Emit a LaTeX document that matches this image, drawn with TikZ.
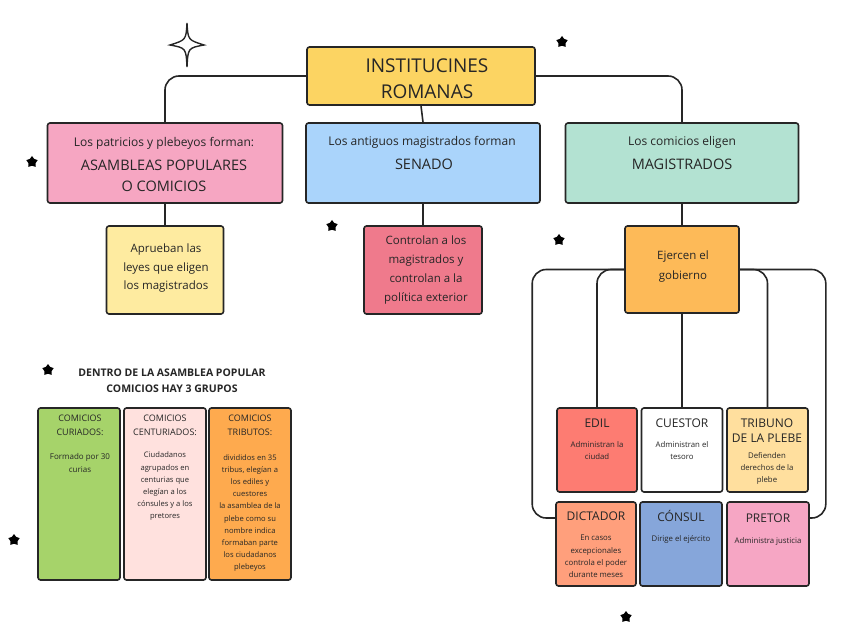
\documentclass[tikz,border=0pt]{standalone}
\usepackage{fontspec}
\setmainfont{Open Sans}
\usetikzlibrary{shapes.geometric}
\definecolor{cInst}{HTML}{FCD462}
\definecolor{cAsam}{HTML}{F6A6C2}
\definecolor{cSen}{HTML}{AAD4FB}
\definecolor{cMag}{HTML}{B3E2D2}
\definecolor{cApr}{HTML}{FEEBA0}
\definecolor{cCtrl}{HTML}{EF7A8C}
\definecolor{cEjer}{HTML}{FDBA58}
\definecolor{cCur}{HTML}{A6D36A}
\definecolor{cCen}{HTML}{FFE1DE}
\definecolor{cTri}{HTML}{FEAA4E}
\definecolor{cEdil}{HTML}{FD7C72}
\definecolor{cTrib}{HTML}{FFDF9E}
\definecolor{cDict}{HTML}{FF9F7C}
\definecolor{cCons}{HTML}{86A6DA}
\definecolor{cPret}{HTML}{F6A6C4}
\begin{document}
\begin{tikzpicture}[x=1pt,y=-1pt,
    box/.style={draw=black!85,line width=1.6pt,rounded corners=2.5pt,inner sep=0pt},
    conn/.style={draw=black!85,line width=1.6pt,rounded corners=14pt},
    txt/.style={align=center,inner sep=0pt,text=black!85},
    blob/.style={star,star points=5,star point ratio=1.6,fill=black,inner sep=0pt,minimum size=12pt}]
\useasboundingbox (0,0) rectangle (848,636);
%top
        \node[box,fill=cInst,minimum width=228,minimum height=58] (inst) at (421,76) {};
        \node[box,fill=cAsam,minimum width=235,minimum height=80] (asam) at (165,163) {};
        \node[box,fill=cSen, minimum width=234,minimum height=80] (sen)  at (423,163) {};
        \node[box,fill=cMag, minimum width=233,minimum height=80] (mag)  at (682,163) {};
        \node[box,fill=cApr, minimum width=117,minimum height=88] (apr)  at (165,270) {};
        \node[box,fill=cCtrl,minimum width=118,minimum height=88] (ctrl) at (423,270) {};
        \node[box,fill=cEjer,minimum width=114,minimum height=87] (ejer) at (682,269.5) {};
        \draw [conn] (inst.west) -| (asam.north);
        \draw [conn] (inst.east) -| (mag.north);
        \draw [conn] (inst.south) -- (sen.north);
        \draw [conn] (asam.south) -- (apr.north);
        \draw [conn] (sen.south) -- (ctrl.north);
        \draw [conn] (mag.south) -- (ejer.north);

        \node[txt,font=\fontsize{19}{26}\selectfont] (inst-t) at (427,79) {INSTITUCINES\\ROMANAS};
        \node[txt,font=\fontsize{12}{14}\selectfont] (asam-a) at (164,143) {Los patricios y plebeyos forman:};
        \node[txt,font=\fontsize{14.5}{21}\selectfont] (asam-b) at (164,175.5) {ASAMBLEAS POPULARES\\O COMICIOS};
        \node[txt,font=\fontsize{12}{14}\selectfont] (sen-a) at (422,142) {Los antiguos magistrados forman};
        \node[txt,font=\fontsize{14.5}{21}\selectfont] (sen-b) at (424,164) {SENADO};
        \node[txt,font=\fontsize{12}{14}\selectfont] (mag-a) at (682,142) {Los comicios eligen};
        \node[txt,font=\fontsize{14.5}{21}\selectfont] (mag-b) at (682,164) {MAGISTRADOS};
        \node[txt,font=\fontsize{11.5}{18.5}\selectfont] (apr-t) at (166,268.5) {Aprueban las\\leyes que eligen\\los magistrados};
        \node[txt,font=\fontsize{11.5}{18.7}\selectfont] (ctrl-t) at (426,270) {Controlan a los\\magistrados y\\controlan a la\\política exterior};
        \node[txt,font=\fontsize{11.5}{20}\selectfont] (ejer-t) at (683,267) {Ejercen el\\gobierno};

%comicios
        \node[txt,font=\fontsize{10.5}{15.5}\selectfont\bfseries] (grp) at (172,380.5) {DENTRO DE LA ASAMBLEA POPULAR\\COMICIOS HAY 3 GRUPOS};
        \node[box,fill=cCur,minimum width=82,minimum height=172] (cur) at (79,494) {};
        \node[box,fill=cCen,minimum width=82,minimum height=172] (cen) at (165,494) {};
        \node[box,fill=cTri,minimum width=82,minimum height=172] (tri) at (250,494) {};
        \node[txt,font=\fontsize{9}{14}\selectfont] (cur-a) at (80,425) {COMICIOS\\CURIADOS:};
        \node[txt,font=\fontsize{8}{13}\selectfont] (cur-b) at (80,462.5) {Formado por 30\\curias};
        \node[txt,font=\fontsize{9}{14}\selectfont] (cen-a) at (165,425) {COMICIOS\\CENTURIADOS:};
        \node[txt,font=\fontsize{7.6}{12.2}\selectfont] (cen-b) at (165,486.5) {Ciudadanos\\agrupados en\\centurias que\\elegían a los\\cónsules y a los\\pretores};
        \node[txt,font=\fontsize{9}{14}\selectfont] (tri-a) at (250,425) {COMICIOS\\TRIBUTOS:};
        \node[txt,font=\fontsize{7.6}{12.2}\selectfont] (tri-b) at (250,513) {divididos en 35\\tribus, elegían a\\los ediles y\\cuestores\\la asamblea de la\\plebe como su\\nombre indica\\formaban parte\\los ciudadanos\\plebeyos};

%magistrados
        \node[box,fill=cEdil, minimum width=80,minimum height=84] (edil) at (597,450) {};
        \node[box,fill=white, minimum width=81,minimum height=84] (cues) at (682,450) {};
        \node[box,fill=cTrib, minimum width=81,minimum height=84] (trib) at (767.5,450) {};
        \node[box,fill=cDict, minimum width=80,minimum height=84] (dict) at (596,544) {};
        \node[box,fill=cCons, minimum width=82,minimum height=84] (cons) at (681,544) {};
        \node[box,fill=cPret, minimum width=82,minimum height=84] (pret) at (768,544) {};
        \draw [conn] (ejer.west) -- ++(-92,0) |- ([yshift=26pt]dict.west);
        \draw [conn] (ejer.west) -| (edil.north);
        \draw [conn] (ejer.south) -- (cues.north);
        \draw [conn] (ejer.east) -| (trib.north);
        \draw [conn] (ejer.east) -- ++(86,0) |- ([yshift=26pt]pret.east);

        \node[txt,font=\fontsize{12}{15}\selectfont] (edil-a) at (597,423) {EDIL};
        \node[txt,font=\fontsize{7.8}{12}\selectfont] (edil-b) at (597,451) {Administran la\\ciudad};
        \node[txt,font=\fontsize{12}{15}\selectfont] (cues-a) at (682,423) {CUESTOR};
        \node[txt,font=\fontsize{7.8}{12}\selectfont] (cues-b) at (682,451) {Administran el\\tesoro};
        \node[txt,font=\fontsize{12}{15}\selectfont] (trib-a) at (767,430.5) {TRIBUNO\\DE LA PLEBE};
        \node[txt,font=\fontsize{7.8}{11.7}\selectfont] (trib-b) at (767,468.5) {Defienden\\derechos de la\\plebe};
        \node[txt,font=\fontsize{12}{15}\selectfont] (dict-a) at (596,516) {DICTADOR};
        \node[txt,font=\fontsize{7.8}{12.3}\selectfont] (dict-b) at (596,556.5) {En casos\\excepcionales\\controla el poder\\durante meses};
        \node[txt,font=\fontsize{12}{15}\selectfont] (cons-a) at (681,516) {CÓNSUL};
        \node[txt,font=\fontsize{7.8}{12}\selectfont] (cons-b) at (681,539) {Dirige el ejército};
        \node[txt,font=\fontsize{7.8}{12}\selectfont] (pret-b) at (768,541) {Administra justicia};
        \node[txt,font=\fontsize{12}{15}\selectfont] (pret-a) at (768,518) {PRETOR};

%stars
        \draw [draw=black!85,line width=1.4pt] (187,23) .. controls (188,40) .. (204,45) .. controls (188,48) .. (187,67) .. controls (186,48) .. (170,45) .. controls (186,40) .. (187,23) -- cycle;
        \node[blob] (s1) at (562,42) {};
        \node[blob] (s2) at (32,162) {};
        \node[blob] (s3) at (332,226) {};
        \node[blob] (s4) at (559,240) {};
        \node[blob] (s5) at (48,370) {};
        \node[blob] (s6) at (14,540) {};
        \node[blob] (s7) at (626,617) {};
\end{tikzpicture}
\end{document}
